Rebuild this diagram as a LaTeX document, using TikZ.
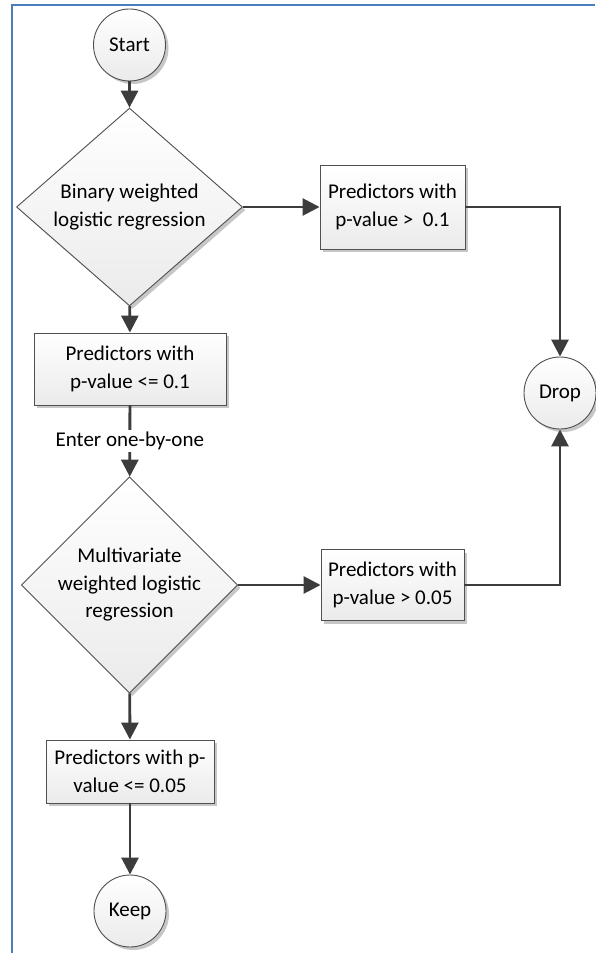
\documentclass[tikz,border=0pt]{standalone}
\usepackage{fontspec}
\setmainfont{Carlito}
\usetikzlibrary{shapes.geometric,arrows.meta,shadows}
\definecolor{linegray}{HTML}{3C3C3C}
\definecolor{edgegray}{HTML}{505050}
\definecolor{frameblue}{HTML}{4A7EBB}
\tikzset{
  shapebase/.style={draw=edgegray, line width=0.9pt, top color=white, bottom color=black!8,
    drop shadow={shadow xshift=3pt, shadow yshift=-3pt, opacity=0.22, fill=black},
    inner sep=0pt, align=center, font=\fontsize{21}{27.5}\selectfont},
  termnode/.style={shapebase, circle, minimum size=72pt},
  decnode/.style={shapebase, diamond},
  procbox/.style={shapebase, rectangle},
  conn/.style={draw=linegray, line width=2.8pt, -{Triangle[length=17pt,width=17pt]}},
  lbl/.style={fill=white, inner sep=2pt, font=\fontsize{21}{27.5}\selectfont}
}
\begin{document}
\begin{tikzpicture}[x=1pt,y=-1pt]
\useasboundingbox (0,0) rectangle (595,955);
\fill[white] (0,0) rectangle (595,955);
\draw[frameblue, line width=2.4pt] (12,953) -- (12,5) -- (595,5);

\node[termnode] (start) at (129.5,45) {Start};
\node[decnode, minimum width=226pt, minimum height=155pt] (d1) at (129.5,207) {Binary weighted\\logistic regression};
\node[procbox, minimum width=145pt, minimum height=84pt] (b1) at (392.5,207) {Predictors with\\p-value >\ \ 0.1};
\node[termnode] (drop) at (560,393) {Drop};
\node[procbox, minimum width=192pt, minimum height=72pt] (b2) at (130,369) {Predictors with\\p-value <= 0.1};
\node[decnode, minimum width=212pt, minimum height=165pt] (d2) at (129.5,585) {Multivariate\\weighted logistic\\regression};
\node[procbox, minimum width=143pt, minimum height=71pt] (b3) at (392.5,585) {Predictors with\\p-value > 0.05};
\node[procbox, minimum width=168pt, minimum height=63pt] (b4) at (130,771.5) {Predictors with p-\\value <= 0.05};
\node[termnode] (keep) at (130,911) {Keep};

\draw[conn] (start) -- (d1);
\draw[conn] (d1.east) -- (b1.west);
\draw[conn] (b1.east) -| (drop.north);
\draw[conn] (d1) -- (b2);
\draw[conn] (b2) -- node[lbl] (enter) {Enter one-by-one} (d2);
\draw[conn] (d2.east) -- (b3.west);
\draw[conn] (b3.east) -| (drop.south);
\draw[conn] (d2) -- (b4);
\draw[conn] (b4) -- (keep);
\end{tikzpicture}
\end{document}
